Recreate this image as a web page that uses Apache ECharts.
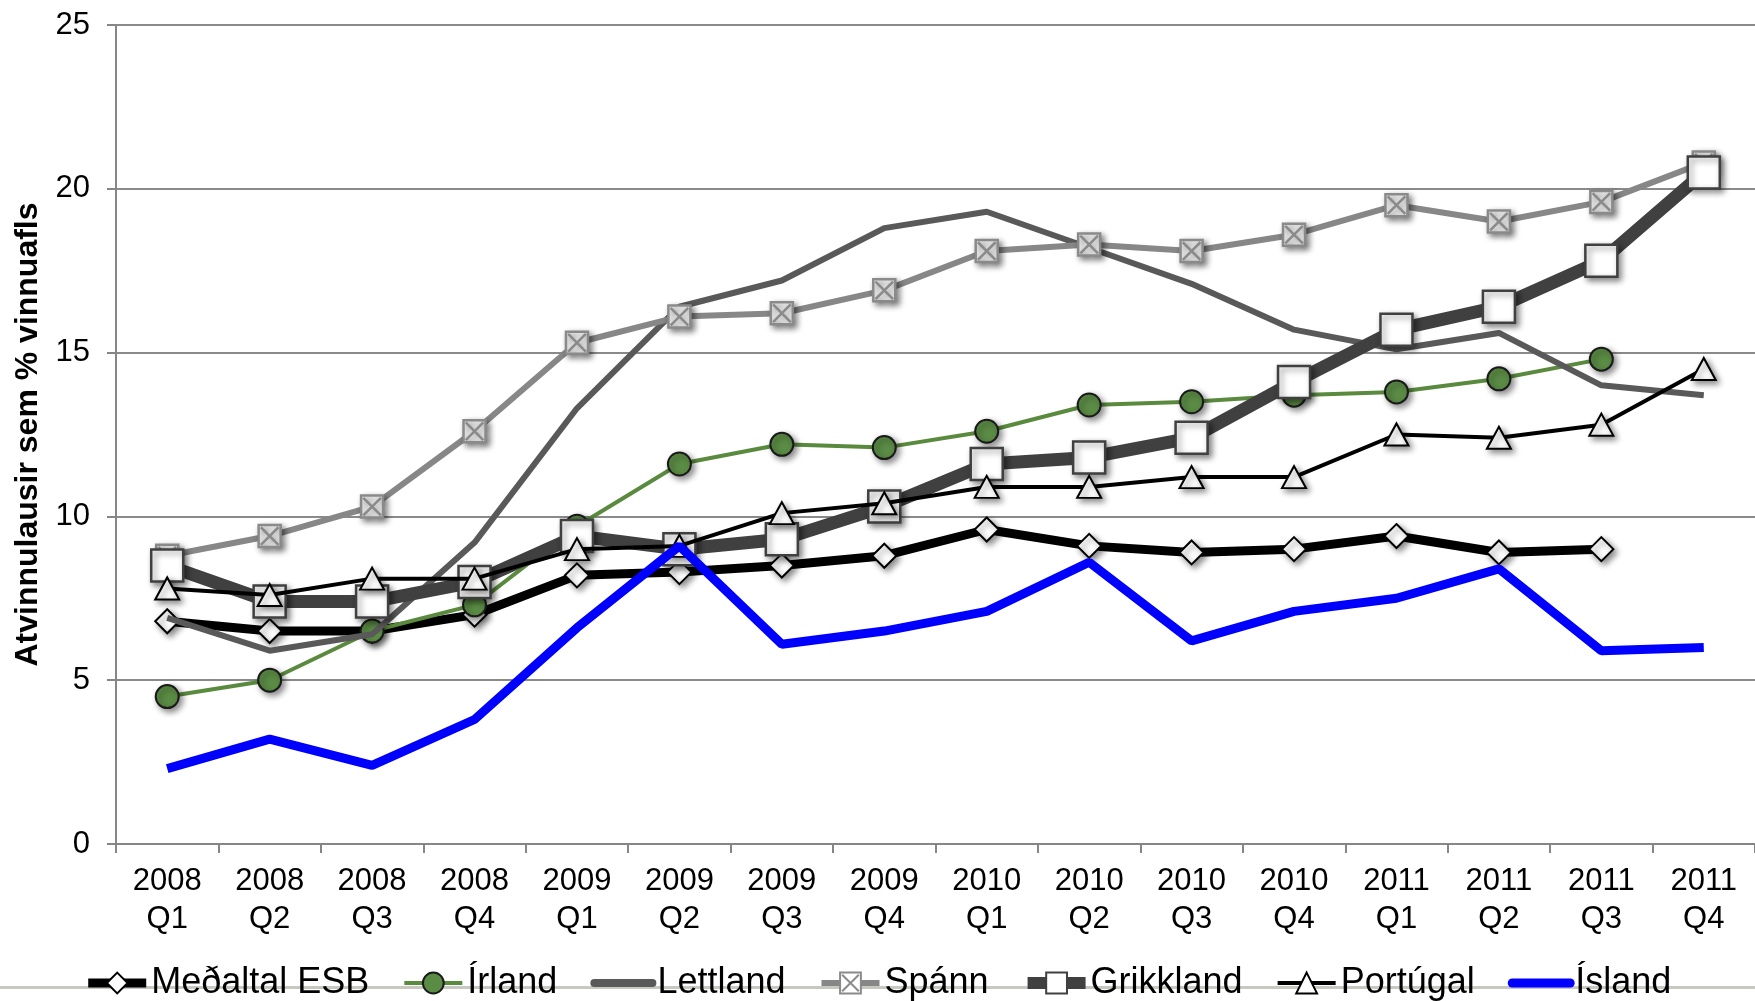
<!DOCTYPE html>
<html>
<head>
<meta charset="utf-8">
<script src="https://cdn.jsdelivr.net/npm/echarts@6/dist/echarts.min.js"></script>
<style>
html,body{margin:0;padding:0;background:#fff;}
#chart{width:1755px;height:1001px;}
</style>
</head>
<body>
<div id="chart"></div>
<script>
const years = ['2008','2008','2008','2008','2009','2009','2009','2009','2010','2010','2010','2010','2011','2011','2011','2011'];
const quarters = ['Q1','Q2','Q3','Q4','Q1','Q2','Q3','Q4','Q1','Q2','Q3','Q4','Q1','Q2','Q3','Q4'];
const yTicks = [0, 5, 10, 15, 20, 25];

const medaltalESB = [6.8, 6.5, 6.5, 7.0, 8.2, 8.3, 8.5, 8.8, 9.6, 9.1, 8.9, 9.0, 9.4, 8.9, 9.0, null];
const irland      = [4.5, 5.0, 6.5, 7.3, 9.7, 11.6, 12.2, 12.1, 12.6, 13.4, 13.5, 13.7, 13.8, 14.2, 14.8, null];
const lettland    = [6.9, 5.9, 6.4, 9.2, 13.3, 16.4, 17.2, 18.8, 19.3, 18.2, 17.1, 15.7, 15.1, 15.6, 14.0, 13.7];
const spann       = [8.8, 9.4, 10.3, 12.6, 15.3, 16.1, 16.2, 16.9, 18.1, 18.3, 18.1, 18.6, 19.5, 19.0, 19.6, 20.8];
const grikkland   = [8.5, 7.4, 7.4, 8.0, 9.4, 9.0, 9.3, 10.3, 11.6, 11.8, 12.4, 14.1, 15.7, 16.4, 17.8, 20.5];
const portugal    = [7.8, 7.6, 8.1, 8.1, 9.0, 9.1, 10.1, 10.4, 10.9, 10.9, 11.2, 11.2, 12.5, 12.4, 12.8, 14.5];
const island      = [2.3, 3.2, 2.4, 3.8, 6.6, 9.1, 6.1, 6.5, 7.1, 8.6, 6.2, 7.1, 7.5, 8.4, 5.9, 6.0];

const categories = years.map((y, i) => y + '\n' + quarters[i]);

const shadow = {shadowColor: 'rgba(0,0,0,0.45)', shadowBlur: 6, shadowOffsetX: 3, shadowOffsetY: 3};
const xBox = 'path://M0,0L10,0L10,10L0,10ZM1,1L9,9M9,1L1,9';

const chart = echarts.init(document.getElementById('chart'));
chart.setOption({
  animation: false,
  backgroundColor: '#ffffff',
  textStyle: {fontFamily: 'Liberation Sans, Arial, sans-serif'},
  grid: {left: 116, right: 0, top: 25, bottom: 157, containLabel: false},
  legend: {
    top: 960,
    left: 'center',
    itemWidth: 58,
    itemHeight: 26,
    itemGap: 33,
    textStyle: {fontSize: 36, color: '#000', fontFamily: 'Liberation Sans, Arial, sans-serif'},
    data: [
      {name: 'Meðaltal ESB', lineStyle: {width: 9}},
      {name: 'Írland', lineStyle: {width: 4}},
      {name: 'Lettland', lineStyle: {width: 8, cap: 'round'}, itemStyle: {opacity: 0}},
      {name: 'Spánn', lineStyle: {width: 6}},
      {name: 'Grikkland', lineStyle: {width: 12}},
      {name: 'Portúgal', lineStyle: {width: 4}},
      {name: 'Ísland', lineStyle: {width: 9, cap: 'round'}, itemStyle: {opacity: 0}}
    ]
  },
  xAxis: {
    type: 'category',
    data: categories,
    boundaryGap: true,
    axisLine: {lineStyle: {color: '#868686', width: 2}},
    axisTick: {show: true, alignWithLabel: false, length: 9, lineStyle: {color: '#868686', width: 2}},
    axisLabel: {color: '#000', fontSize: 31, lineHeight: 38, margin: 18, interval: 0}
  },
  yAxis: {
    type: 'value',
    min: yTicks[0],
    max: yTicks[yTicks.length - 1],
    interval: 5,
    name: 'Atvinnulausir sem % vinnuafls',
    nameLocation: 'middle',
    nameGap: 72,
    nameTextStyle: {fontSize: 32, fontWeight: 'bold', color: '#000'},
    axisLine: {show: true, lineStyle: {color: '#868686', width: 2}},
    axisTick: {show: true, length: 9, lineStyle: {color: '#868686', width: 2}},
    axisLabel: {color: '#000', fontSize: 31, margin: 26},
    splitLine: {lineStyle: {color: '#8a8a8a', width: 2}}
  },
  graphic: [{
    type: 'rect', shape: {x: 0, y: 986, width: 1755, height: 3},
    style: {fill: '#c8c8c0'}, z: -1, silent: true
  }],
  series: [
    {
      name: 'Meðaltal ESB', type: 'line', data: medaltalESB, z: 2,
      lineStyle: {color: '#000', width: 9},
      symbol: 'diamond', symbolSize: [24, 24], showAllSymbol: true,
      itemStyle: Object.assign({color: '#fff', borderColor: '#000', borderWidth: 2}, shadow)
    },
    {
      name: 'Írland', type: 'line', data: irland, z: 3,
      lineStyle: {color: '#5a8a3e', width: 4},
      symbol: 'circle', symbolSize: 23, showAllSymbol: true,
      itemStyle: Object.assign({color: '#5b8c45', borderColor: '#1a1a1a', borderWidth: 2}, shadow)
    },
    {
      name: 'Lettland', type: 'line', data: lettland, z: 4,
      lineStyle: {color: '#595959', width: 6},
      itemStyle: {color: '#595959'},
      symbol: 'none'
    },
    {
      name: 'Spánn', type: 'line', data: spann, z: 5,
      lineStyle: {color: '#878787', width: 6},
      symbol: xBox, symbolSize: 22, showAllSymbol: true,
      itemStyle: Object.assign({color: '#fff', borderColor: '#8a8a8a', borderWidth: 2.5}, shadow)
    },
    {
      name: 'Grikkland', type: 'line', data: grikkland, z: 6,
      lineStyle: {color: '#404040', width: 13},
      symbol: 'rect', symbolSize: 32, showAllSymbol: true,
      itemStyle: Object.assign({color: '#fff', borderColor: '#404040', borderWidth: 2.5}, shadow)
    },
    {
      name: 'Portúgal', type: 'line', data: portugal, z: 7,
      lineStyle: {color: '#000', width: 4},
      symbol: 'triangle', symbolSize: [24, 22], showAllSymbol: true,
      itemStyle: Object.assign({color: '#fff', borderColor: '#000', borderWidth: 2}, shadow)
    },
    {
      name: 'Ísland', type: 'line', data: island, z: 8,
      lineStyle: {color: '#0000ff', width: 9},
      itemStyle: {color: '#0000ff'},
      symbol: 'none'
    }
  ]
});
</script>
</body>
</html>
